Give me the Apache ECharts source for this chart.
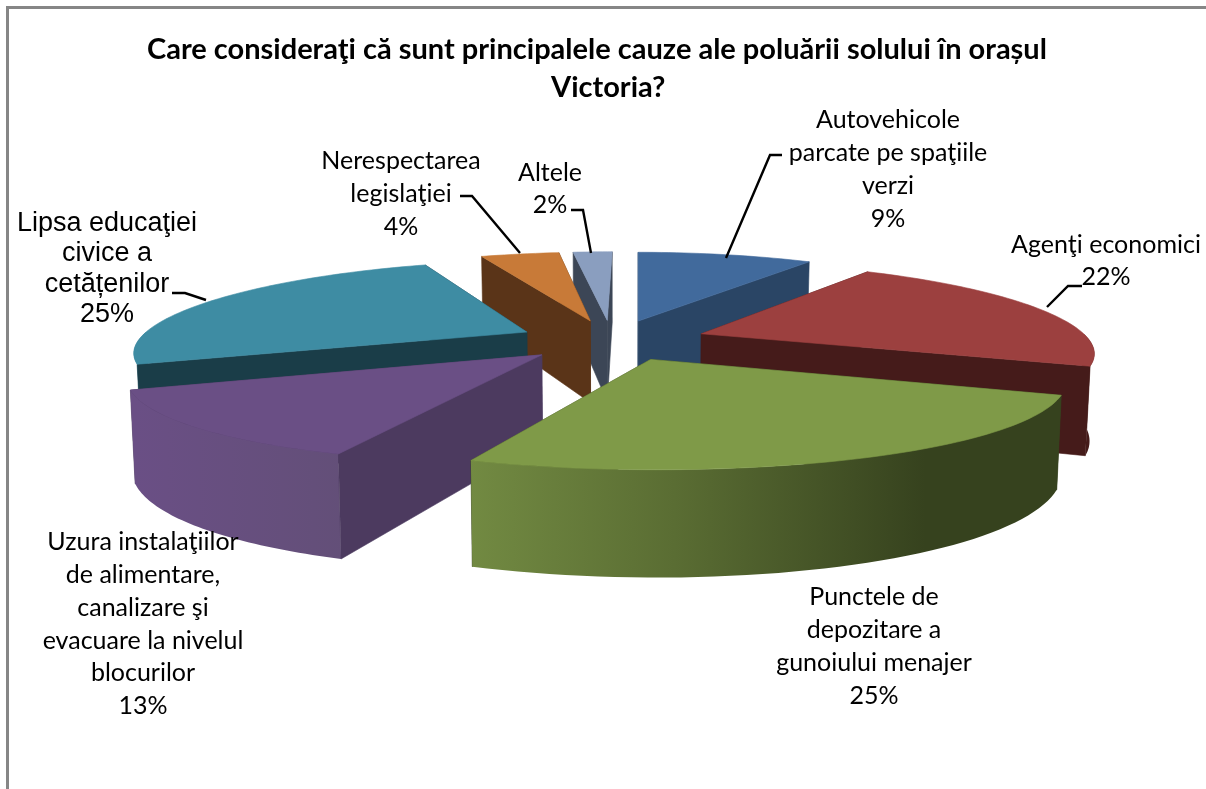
<!DOCTYPE html>
<html><head><meta charset="utf-8">
<style>html,body{margin:0;padding:0;background:#fff}#c{width:1206px;height:789px}</style>
<script src="https://cdn.jsdelivr.net/npm/echarts@6/dist/echarts.min.js"></script>
</head><body><div id="c"></div>
<script>
const titleLines = ['Care consideraţi că sunt principalele cauze ale poluării solului în orașul', 'Victoria?'];
const categories = [
  'Autovehicole\nparcate pe spaţiile\nverzi',
  'Agenţi economici',
  'Punctele de\ndepozitare a\ngunoiului menajer',
  'Uzura instalaţiilor\nde alimentare,\ncanalizare şi\nevacuare la nivelul\nblocurilor',
  'Lipsa educaţiei\ncivice a\ncetățenilor',
  'Nerespectarea\nlegislaţiei',
  'Altele'
];
const values = [9, 22, 25, 13, 25, 4, 2];

// Colours: top surface, cut face, outer wall (wall may be a gradient)
const topColors  = ['#416a9c', '#9c403f', '#7f9a48', '#6a4f85', '#3e8ca3', '#c87a38', '#8a9ebf'];
const faceColors = ['#2a4565', '#451b1a', '#36421e', '#4c3a5f', '#1a3d48', '#5a3418', '#3c4656'];

// Projection of the tilted, exploded pie
const view = {cx: 612, cy: 340, R: 388, kR: 85, persp: 0.2, skew: 4, explode: 95, explodeY: 0.24, h: 85, shrink: 0.99};

const labelLayout = [
  {x: 888,  y: 104, lh: 32.7},
  {x: 1106, y: 229, lh: 32},
  {x: 874,  y: 581, lh: 32.7},
  {x: 143,  y: 526, lh: 32.7},
  {x: 107,  y: 208, lh: 30.5, font: '"Liberation Sans"', size: 27},
  {x: 401,  y: 144, lh: 33},
  {x: 550,  y: 157, lh: 32}
];
const leaders = [
  [[782,155],[770,155],[726,258]],
  [[1082,286],[1068,286],[1047,307]],
  null, null,
  [[172,293],[185,293],[206,300]],
  [[460,196],[472,196],[520,253]],
  [[571,210],[583,210],[591,253]]
];

const total = values.reduce((a, b) => a + b, 0);
const rad = v => v / total * Math.PI * 2;

function project(nx, ny, z) {
  // nx, ny in radius units; ny > 0 is toward the viewer; z 0 top, 1 bottom
  const s = 1 / (1 - view.persp * ny);
  const sb = z ? view.shrink : 1;
  return [
    view.cx + s * sb * nx * view.R - view.skew * ny,
    view.cy + Math.pow(s, 0.8) * view.kR * ny + z * view.h * Math.pow(s, 0.85)
  ];
}

function renderItem(params, api) {
  const i = params.dataIndex;
  const v = api.value(0);
  let start = 0;
  for (let k = 0; k < i; k++) start += rad(values[k]);
  const end = start + rad(v);
  const mid = (start + end) / 2;
  const ox = Math.sin(mid) * view.explode / view.R;
  const oy = -Math.cos(mid) * view.explodeY;
  const rim = a => [ox + Math.sin(a), oy - Math.cos(a)];
  const pt = (p, z) => project(p[0], p[1], z);
  const apex = [ox, oy];
  const base = Math.round((oy + 2) * 100) * 10; // paint slices back to front
  const children = [];
  const poly = (pts, fill, z2) => children.push({
    type: 'polygon', z2: base + z2,
    shape: {points: pts},
    style: {fill: fill, stroke: fill, lineWidth: 0.6}
  });
  const face = a => [pt(apex, 0), pt(rim(a), 0), pt(rim(a), 1), pt(apex, 1)];
  // cut faces: away-facing ones go under the wall, viewer-facing ones over it
  const startFront = Math.sin(start) < -1e-6;
  const endFront = Math.sin(end) > 1e-6;
  poly(face(start), faceColors[i], startFront ? 3 : 1);
  poly(face(end), faceColors[i], endFront ? 3 : 1);
  // outer wall (visible part)
  const a0 = Math.max(start, Math.PI / 2), a1 = Math.min(end, Math.PI * 1.5);
  const wallFill = i === 2
    ? new echarts.graphic.LinearGradient(470, 0, 925, 0, [
        {offset: 0, color: '#728a42'}, {offset: 0.45, color: '#5a6d33'}, {offset: 1, color: '#36421e'}], true)
    : i === 3
    ? new echarts.graphic.LinearGradient(135, 0, 345, 0, [
        {offset: 0, color: '#6a4f85'}, {offset: 1, color: '#634f78'}], true)
    : i === 1 ? faceColors[1] : topColors[i];
  if (a1 > a0) {
    const topEdge = [], botEdge = [];
    const n = 48;
    for (let k = 0; k <= n; k++) {
      const a = a0 + (a1 - a0) * k / n;
      topEdge.push(pt(rim(a), 0));
      botEdge.unshift(pt(rim(a), 1));
    }
    children.push({
      type: 'polygon', z2: base + 2,
      shape: {points: topEdge.concat(botEdge)},
      style: {fill: wallFill}
    });
  }
  // top surface
  const top = [pt(apex, 0)];
  const n = Math.max(8, Math.round((end - start) * 40));
  for (let k = 0; k <= n; k++) top.push(pt(rim(start + (end - start) * k / n), 0));
  poly(top, topColors[i], 4);

  // label
  const lay = labelLayout[i];
  const pct = Math.round(v / total * 100) + '%';
  children.push({
    type: 'text', z2: 90000,
    x: lay.x, y: lay.y,
    style: {
      text: categories[i] + '\n' + pct,
      x: 0, y: 0,
      align: 'center', verticalAlign: 'top',
      fontFamily: lay.font || 'Lato',
      fontSize: lay.size || 25,
      lineHeight: lay.lh,
      fill: '#000'
    }
  });
  if (leaders[i]) children.push({
    type: 'polyline', z2: 80000,
    shape: {points: leaders[i]},
    style: {stroke: '#000', lineWidth: 2.4, fill: 'none'}
  });
  return {type: 'group', children};
}

const titleStyle = {fontFamily: 'Lato', fontWeight: 'bold', fontSize: 29, lineHeight: 38, color: '#000'};
const chart = echarts.init(document.getElementById('c'), null, {renderer: 'canvas'});
chart.setOption({
  animation: false,
  backgroundColor: '#fff',
  title: [
    {text: titleLines[0], left: 147, top: 31, padding: 0, textStyle: titleStyle},
    {text: titleLines[1], left: 551, top: 69, padding: 0, textStyle: titleStyle}
  ],
  graphic: [
    {type: 'rect', shape: {x: 6, y: 6, width: 1200, height: 3}, style: {fill: '#868686'}},
    {type: 'rect', shape: {x: 6, y: 6, width: 3, height: 783}, style: {fill: '#868686'}}
  ],
  series: [{
    type: 'custom',
    coordinateSystem: 'none',
    renderItem,
    data: values.map((v, i) => ({name: categories[i], value: [v]}))
  }]
});
</script></body></html>
